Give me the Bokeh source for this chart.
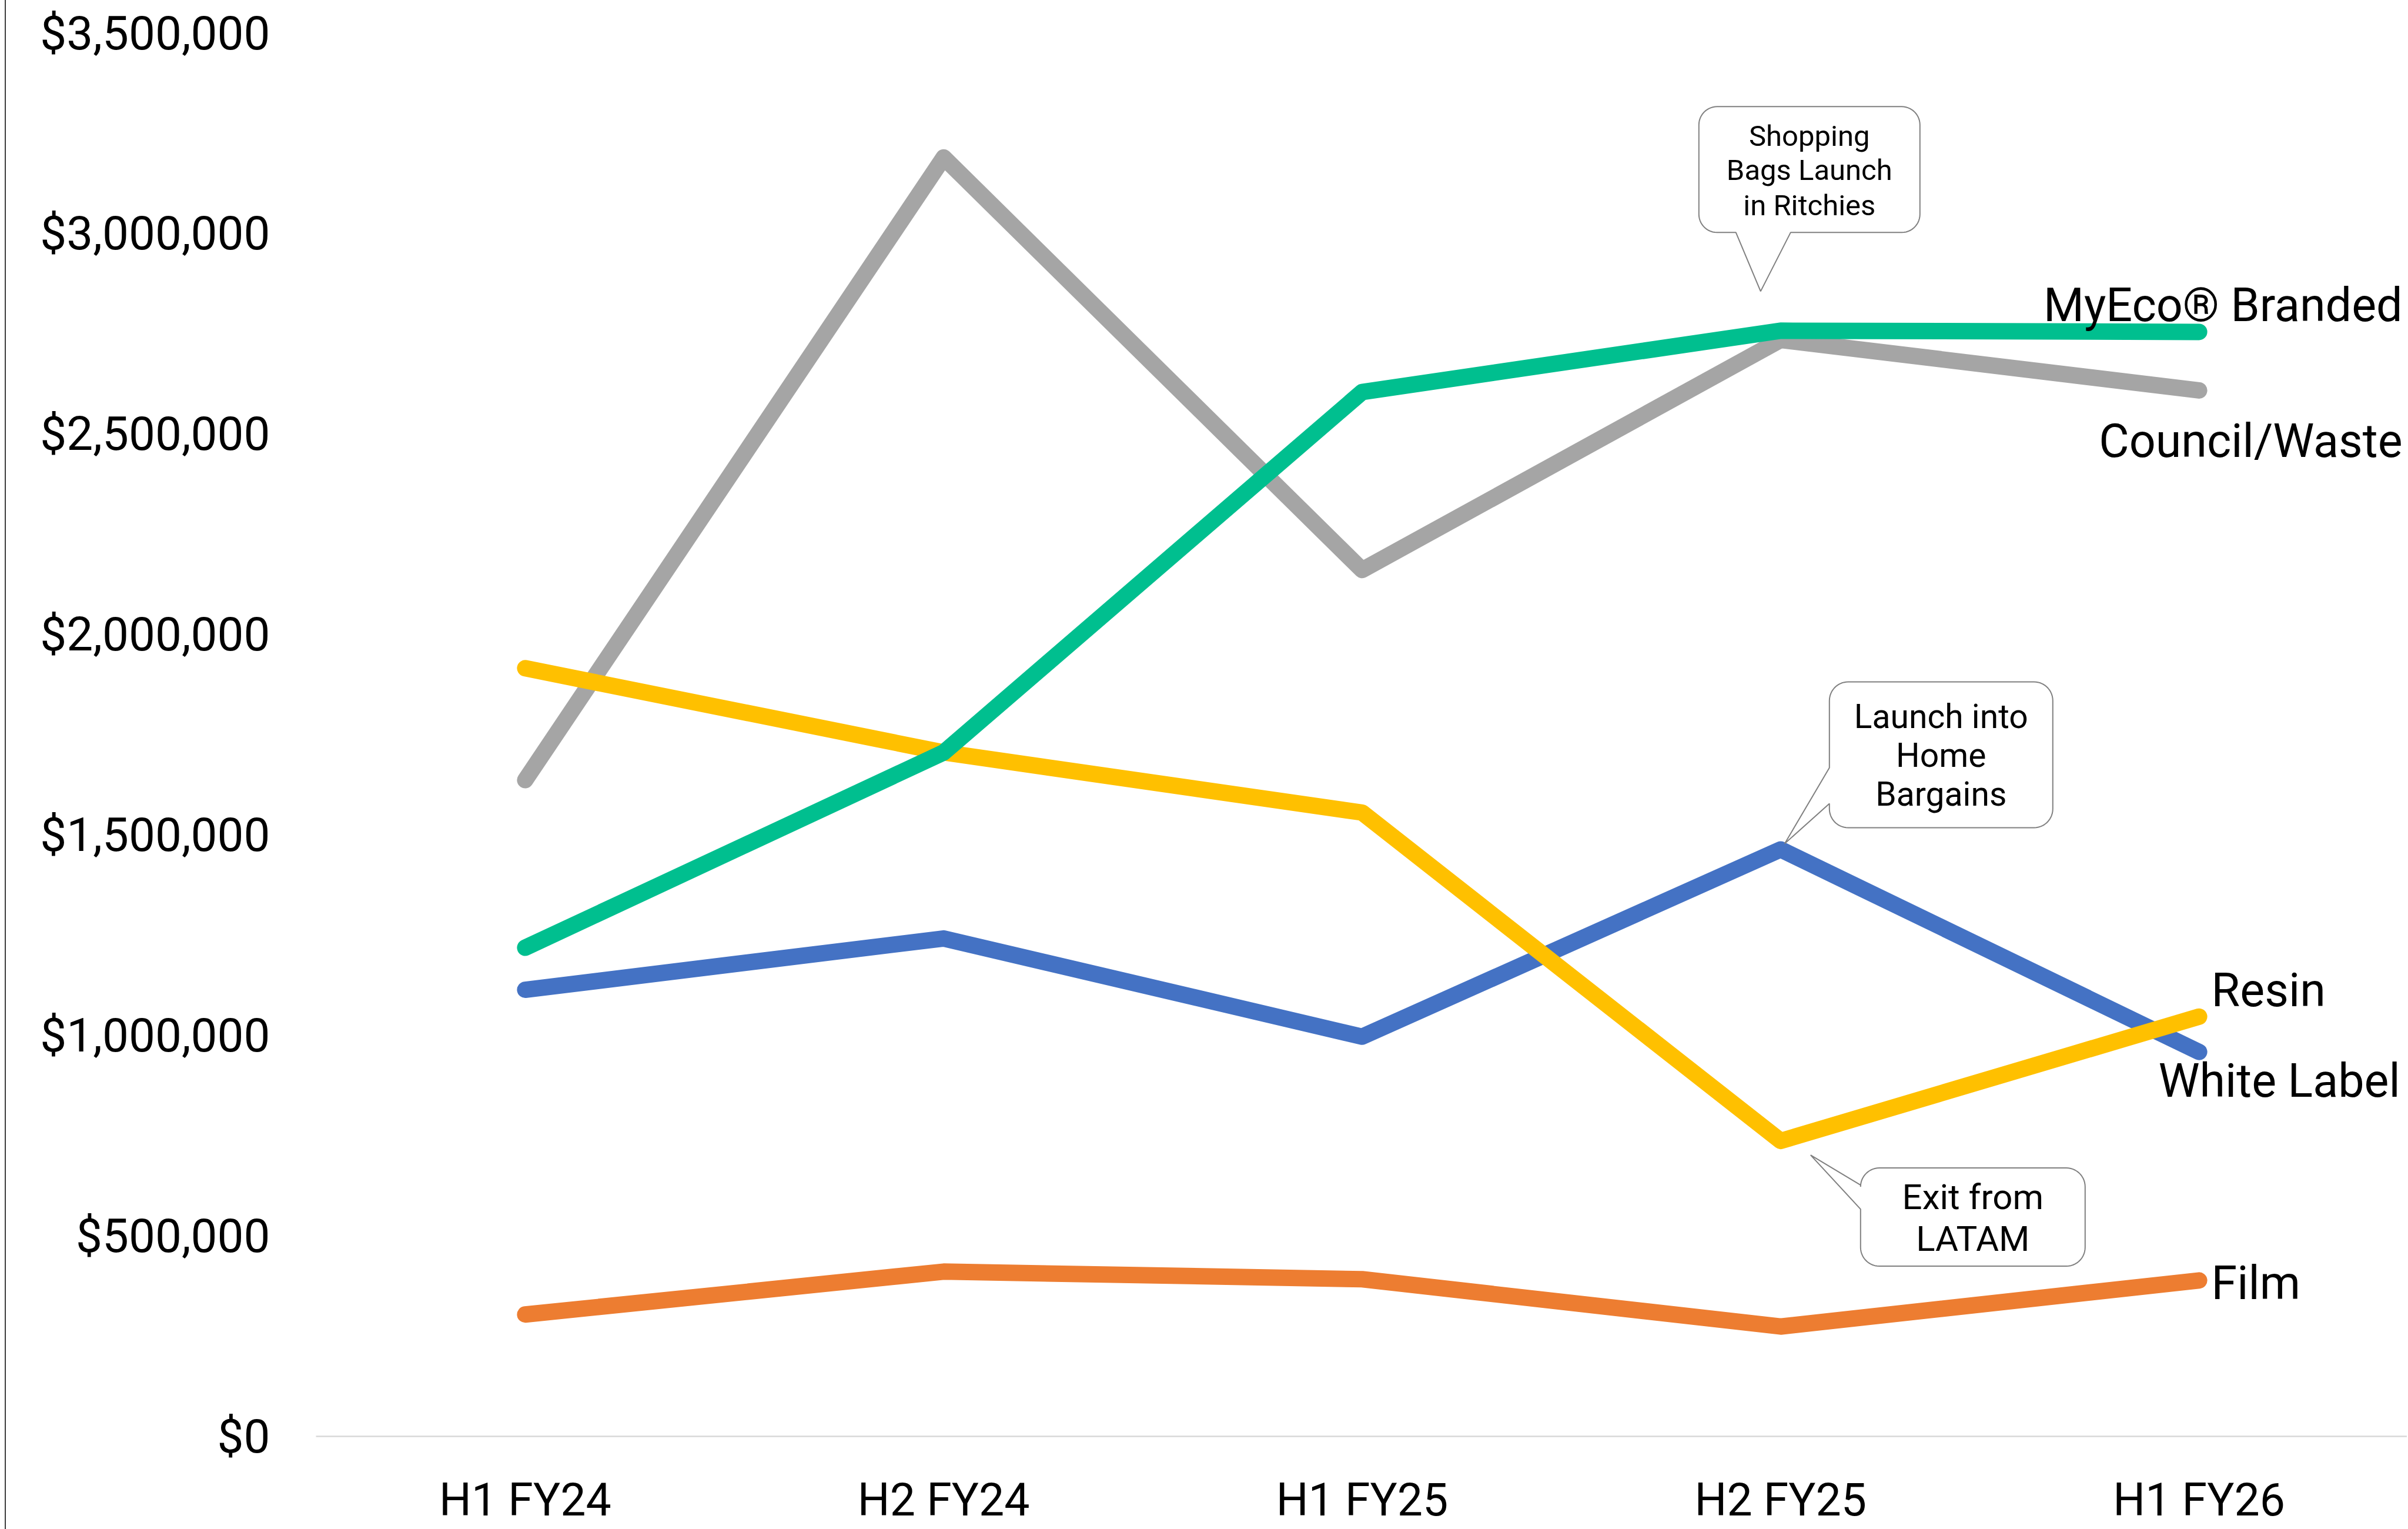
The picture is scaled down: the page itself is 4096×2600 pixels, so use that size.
import numpy as np
from bokeh.plotting import figure
from bokeh.models import FactorRange, Range1d, FixedTicker, NumeralTickFormatter
from bokeh.embed import file_html
from bokeh.resources import INLINE
from bokeh.core.properties import value

# ---------------- data ----------------
periods = ["H1 FY24", "H2 FY24", "H1 FY25", "H2 FY25", "H1 FY26"]

white_label = [1114000, 1242000, 997000, 1464000, 959000]
film = [304000, 411000, 392000, 274000, 389000]
council_waste = [1637000, 3190000, 2161000, 2735000, 2609000]
resin = [1916000, 1706000, 1556000, 737000, 1047000]
myeco_branded = [1219000, 1706000, 2605000, 2758000, 2755000]

series_names = ["White Label", "Film", "Council/Waste", "Resin", "MyEco\u00ae Branded"]
series_values = [white_label, film, council_waste, resin, myeco_branded]
series_colors = ["#4472C4", "#ED7D31", "#A5A5A5", "#FFC000", "#00BF8F"]

y_ticks = [0, 500000, 1000000, 1500000, 2000000, 2500000, 3000000, 3500000]

callout_shopping = ["Shopping", "Bags Launch", "in Ritchies"]
callout_home = ["Launch into", "Home", "Bargains"]
callout_latam = ["Exit from", "LATAM"]

# ---------------- layout ----------------
W, H = 4086, 2600
LEFT, TOP, BOTTOM = 527, 56, 158
Y_MAX = 3500000
FONT = "Roboto"

p = figure(width=W, height=H, x_range=FactorRange(*periods, range_padding=0),
           y_range=Range1d(0, Y_MAX), output_backend="svg", toolbar_location=None,
           min_border_left=LEFT, min_border_right=0, min_border_top=TOP,
           min_border_bottom=BOTTOM)
p.styles = {"border-left": "2px solid #3c3c3c", "margin-left": "8px"}
p.outline_line_color = None
p.background_fill_color = "white"
p.border_fill_color = "white"
p.xgrid.visible = False
p.ygrid.visible = False

FRAME_W = W - LEFT
FRAME_H = H - TOP - BOTTOM
PX_PER_CAT = FRAME_W / len(periods)
PX_PER_VAL = FRAME_H / Y_MAX

# axes
p.yaxis.ticker = FixedTicker(ticks=y_ticks)
p.yaxis.formatter = NumeralTickFormatter(format="$0,0")
p.yaxis.axis_line_color = None
p.yaxis.major_tick_line_color = None
p.yaxis.minor_tick_line_color = None
p.yaxis.major_label_text_font = FONT
p.yaxis.major_label_text_font_size = "80px"
p.yaxis.major_label_text_color = "#000000"
p.yaxis.major_label_standoff = 72

p.xaxis.axis_line_color = "#D9D9D9"
p.xaxis.axis_line_width = 2.6
p.xaxis.major_tick_line_color = None
p.xaxis.minor_tick_line_color = None
p.xaxis.major_label_text_font = FONT
p.xaxis.major_label_text_font_size = "77px"
p.xaxis.major_label_text_color = "#000000"
p.xaxis.major_label_standoff = 57

# lines
for name, vals, col in zip(series_names, series_values, series_colors):
    p.line(x=periods, y=vals, line_color=col, line_width=28,
           line_cap="round", line_join="round")

# end labels (x offset px, y offset px, align)
label_style = {
    "MyEco\u00ae Branded": (346, -45, "right"),
    "Council/Waste": (346, 86, "right"),
    "Resin": (21, -45, "left"),
    "White Label": (342, 49, "right"),
    "Film": (21, 5, "left"),
}
for name, vals in zip(series_names, series_values):
    dx, dy, al = label_style[name]
    p.text(x=[periods[-1]], y=[vals[-1]], text=[name], x_offset=dx, y_offset=dy,
           text_align=al, text_baseline="middle", text_font=value(FONT),
           text_font_size="79px", text_color="#000000")


# callouts
def callout_path(l, r, t, b, rad, side, a, c, tip):
    pts = []

    def arc(cx, cy, a0, a1):
        for ang in np.linspace(np.radians(a0), np.radians(a1), 14):
            pts.append((cx + rad * np.cos(ang), cy + rad * np.sin(ang)))

    arc(l + rad, t + rad, 180, 270)
    arc(r - rad, t + rad, 270, 360)
    arc(r - rad, b - rad, 0, 90)
    if side == "bottom":
        pts.extend([(c, b), tip, (a, b)])
    arc(l + rad, b - rad, 90, 180)
    if side == "left":
        pts.extend([(l, c), tip, (l, a)])
    return pts


def draw_callout(cat, val, box, rad, side, a, c, tip, lines, line_offsets, cx, fsize):
    ax = periods.index(cat) + 0.5
    pts = callout_path(*box, rad, side, a, c, tip)
    xs = [ax + px / PX_PER_CAT for px, py in pts]
    ys = [val - py / PX_PER_VAL for px, py in pts]
    p.patch(x=xs, y=ys, fill_color="white", line_color="#808080", line_width=2)
    for ln, oy in zip(lines, line_offsets):
        p.text(x=[ax + cx / PX_PER_CAT], y=[val - oy / PX_PER_VAL], text=[ln],
               text_align="center", text_baseline="middle", text_font=value(FONT),
               text_font_size=fsize, text_color="#000000")


draw_callout("H2 FY25", myeco_branded[3], (-139, 237, -381, -167), 31, "bottom",
             -76, 17, (-34, -67), callout_shopping, [-331, -273, -213], 49, "49px")
draw_callout("H2 FY25", white_label[3], (83, 463, -285, -37), 32, "left",
             -139, -78, (7, -10), callout_home, [-226, -160, -94], 273, "57px")
draw_callout("H2 FY25", resin[3], (136, 518, 46, 213), 32, "left",
             75, 116, (51, 24), callout_latam, [95, 166], 327, "60px")

open("out.html", "w").write(file_html(p, INLINE))
